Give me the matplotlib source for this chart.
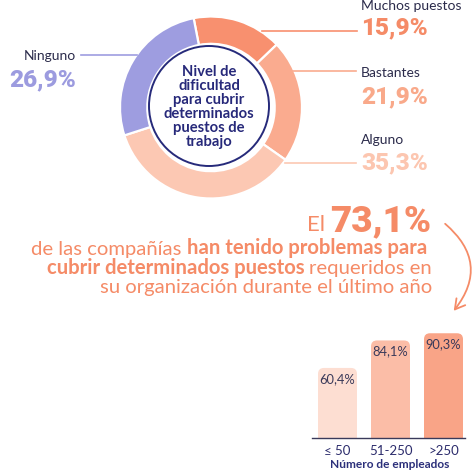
import matplotlib
matplotlib.use("Agg")
import matplotlib.pyplot as plt
from matplotlib.patches import Circle, FancyBboxPatch, FancyArrowPatch

plt.rcParams['font.family'] = ['Lato', 'DejaVu Sans']
HEAVY = ['Roboto', 'DejaVu Sans']

# ---------------- data ----------------
donut_labels = ['Muchos puestos', 'Bastantes', 'Alguno', 'Ninguno']
donut_values = [15.9, 21.9, 35.3, 26.9]
donut_colors = ['#F8906F', '#FAAB8F', '#FCC8B3', '#9E9DE0']
pct_colors = ['#F58B67', '#F9A98A', '#FCC6B0', '#9C9BDF']

center_lines = ['Nivel de', 'dificultad', 'para cubrir', 'determinados', 'puestos de', 'trabajo']

headline_pct = 73.1

bar_categories = ['≤ 50', '51-250', '>250']
bar_values = [60.4, 84.1, 90.3]
bar_colors = ['#FDDED2', '#FBBDA7', '#F9A487']
bar_axis_title = 'Número de empleados'

def fmt(v):
    return f"{v:.1f}".replace('.', ',') + '%'

W, H = 474, 471
fig = plt.figure(figsize=(W / 100, H / 100), dpi=100)
fig.patch.set_facecolor('white')

# overlay axes in pixel coordinates (drawn on top)
ov = fig.add_axes([0, 0, 1, 1])
ov.set_xlim(0, W)
ov.set_ylim(H, 0)
ov.axis('off')
ov.set_zorder(10)

# ---------------- donut ----------------
cx, cy, R = 211, 107.5, 91
axd = fig.add_axes([(cx - R) / W, 1 - (cy + R) / H, 2 * R / W, 2 * R / H])
axd.pie(donut_values, radius=1, startangle=101, counterclock=False,
        colors=donut_colors,
        wedgeprops=dict(width=0.3, edgecolor='white', linewidth=1.6))
axd.set_xlim(-1, 1)
axd.set_ylim(-1, 1)
axd.set_aspect('equal')
axd.axis('off')
axd.add_patch(Circle(((209 - cx) / R, (cy - 106) / R), 60 / R,
                     facecolor='white', edgecolor='#262A7A', lw=1.4, zorder=5))

navy = '#27297A'
for i, line in enumerate(center_lines):
    ov.text(209, 72 + 14 * i, line, ha='center', va='center', color=navy,
            fontsize=10.6, fontweight='bold', zorder=10)

# ---------------- donut labels ----------------
dark = '#2B2B4B'
label_pos = {
    # name: (text x, label y, pct y, line y, line x0, line x1, align)
    'Muchos puestos': (361, 6, 28, 31, 262, 357, 'left'),
    'Bastantes': (361, 73, 97, 71, 293, 356, 'left'),
    'Alguno': (361, 140, 163, 163, 285, 356, 'left'),
    'Ninguno': (76, 56, 80, 55, 81, 137, 'right'),
}
for name, val, col, pcol in zip(donut_labels, donut_values, donut_colors, pct_colors):
    tx, ly, py, liy, lx0, lx1, al = label_pos[name]
    ov.text(tx, ly, name, ha=al, va='center', color=dark, fontsize=10)
    ov.text(tx, py, fmt(val), ha=al, va='center', color=pcol, fontsize=17.5,
            fontweight='black', family=HEAVY)
    ov.plot([lx0, lx1], [liy, liy], color=col, lw=1.2)

# ---------------- headline text ----------------
orange = '#F58B67'
r = fig.canvas.get_renderer()

def run_right(x_right, y, parts, size):
    """parts: list of (text, weight) drawn right-to-left ending at x_right"""
    x = x_right
    for txt, wt in reversed(parts):
        t = ov.text(x, y, txt, ha='right', va='baseline', color=orange,
                    fontsize=size, fontweight=wt)
        bb = t.get_window_extent(r)
        x = bb.x0 - 5

t73 = ov.text(431, 231, fmt(headline_pct), ha='right', va='baseline', color=orange,
              fontsize=26.5, fontweight='black', family=HEAVY)
bb = t73.get_window_extent(r)
ov.text(bb.x0 - 5, 231, 'El', ha='right', va='baseline', color=orange,
        fontsize=16, fontweight='normal')

hs = 14.6
run_right(427, 254.5, [('de las compañías', 'normal'),
                       ('han tenido problemas para', 'bold')], hs)
run_right(432, 274, [('cubrir determinados puestos', 'bold'),
                     ('requeridos en', 'normal')], hs)
run_right(432, 293, [('su organización durante el último año', 'normal')], hs)

arrow = FancyArrowPatch((443, 222), (452, 313),
                        connectionstyle='arc3,rad=-0.5',
                        arrowstyle='->,head_length=7,head_width=4',
                        color='#F58B67', lw=1.3, mutation_scale=1)
ov.add_patch(arrow)

# ---------------- bar chart ----------------
base_y = 438
px_per_unit = 1.16
top_y = base_y - 100 * px_per_unit
x_left, x_right = 312, 465
step = 53
axb = fig.add_axes([x_left / W, 1 - base_y / H, (x_right - x_left) / W, (base_y - top_y) / H])
xs = list(range(len(bar_categories)))
bars = axb.bar(xs, bar_values, width=39 / step, color=bar_colors)
axb.set_xlim((x_left - 337.5) / step, (x_right - 337.5) / step)
axb.set_ylim(0, 100)
rad_x = 6 / step
aspect = (1 / px_per_unit) / (1 / step)
for b, c in zip(bars, bar_colors):
    b.set_visible(False)
    p = FancyBboxPatch((b.get_x(), -10), b.get_width(), b.get_height() + 10,
                       boxstyle=f'round,pad=0,rounding_size={rad_x}',
                       mutation_aspect=aspect, facecolor=c, edgecolor='none')
    axb.add_patch(p)
for x, v in zip(xs, bar_values):
    axb.text(x, v - 11 / px_per_unit, fmt(v), ha='center', va='center',
             color='#3A3A5A', fontsize=9.3)
for s in ['top', 'right', 'left']:
    axb.spines[s].set_visible(False)
axb.spines['bottom'].set_color('#3A3A5A')
axb.spines['bottom'].set_linewidth(1.0)
axb.set_yticks([])
axb.set_xticks(xs)
axb.set_xticklabels(bar_categories, color='#2C2C6C', fontsize=9.5)
axb.tick_params(axis='x', length=0, pad=5)
axb.patch.set_alpha(0)
ov.text(390, 465, bar_axis_title, ha='center', va='center', color='#2B2F7A',
        fontsize=8.6, fontweight='bold')

fig.savefig('out.png', dpi=100, facecolor='white')
